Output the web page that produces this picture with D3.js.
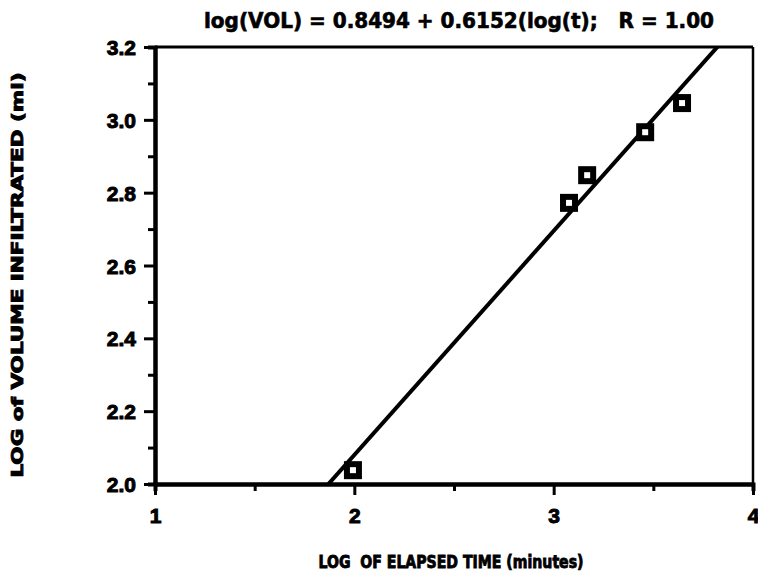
<!DOCTYPE html>
<html><head><meta charset="utf-8">
<script src="https://cdn.jsdelivr.net/npm/d3@7"></script>
<style>
body{margin:0;background:#fff;}
svg text{font-family:"Liberation Sans Narrow","DejaVu Sans Condensed","Arial Narrow",sans-serif;font-weight:bold;fill:#000;white-space:pre;}
</style></head>
<body>
<svg id="c" width="758" height="583"></svg>
<script>
// Data
const logTime = [1.993, 3.077, 3.168, 3.459, 3.644];
const logVolume = [2.038, 2.772, 2.848, 2.966, 3.046];
const fitIntercept = 0.8494;
const fitSlope = 0.6152;
const xTickValues = [1, 2, 3, 4];
const xMinorTicks = [1.5, 2.5, 3.5];
const yTickValues = [2.0, 2.2, 2.4, 2.6, 2.8, 3.0, 3.2];
const yMinorTicks = [2.1, 2.3, 2.5, 2.7, 2.9, 3.1];
const titleText = "log(VOL) = 0.8494 + 0.6152(log(t);   R = 1.00";
const xTitle = "LOG  OF ELAPSED TIME (minutes)";
const yTitle = "LOG of VOLUME INFILTRATED (ml)";

const svg = d3.select("#c");
const L = 155, R = 753, T = 47, B = 484;
const x = d3.scaleLinear().domain([1, 4]).range([L, R]);
const y = d3.scaleLinear().domain([2.0, 3.2]).range([B, T]);

// frame (top & right)
svg.append("line").attr("x1", L).attr("x2", R).attr("y1", T).attr("y2", T)
  .attr("stroke", "#000").attr("stroke-width", 3);
svg.append("line").attr("x1", R).attr("x2", R).attr("y1", T).attr("y2", B)
  .attr("stroke", "#000").attr("stroke-width", 2.5);

// regression line clipped to plot
svg.append("clipPath").attr("id", "clip").append("rect")
  .attr("x", L).attr("y", T).attr("width", R - L).attr("height", B - T);
const xs = [1, 4];
svg.append("line").attr("clip-path", "url(#clip)")
  .attr("x1", x(xs[0])).attr("y1", y(fitIntercept + fitSlope * xs[0]))
  .attr("x2", x(xs[1])).attr("y2", y(fitIntercept + fitSlope * xs[1]))
  .attr("stroke", "#000").attr("stroke-width", 4);

// axes
function styleAxis(g) {
  g.select(".domain").attr("stroke", "#000").attr("stroke-width", 4);
  g.selectAll(".tick line").attr("stroke", "#000").attr("stroke-width", 3);
}
const yAxis = svg.append("g").attr("transform", `translate(${L},0)`)
  .call(d3.axisLeft(y).tickValues(yTickValues).tickFormat(d3.format(".1f")).tickSize(11).tickSizeOuter(0));
styleAxis(yAxis);
yAxis.selectAll(".tick text").attr("font-size", 21).attr("x", -19).attr("dy", "0.36em")
  .attr("stroke", "#000").attr("stroke-width", 1)
  .style("font-family", "'Liberation Sans','DejaVu Sans',sans-serif").style("font-weight", "bold");
const yMinor = svg.append("g").attr("transform", `translate(${L},0)`)
  .call(d3.axisLeft(y).tickValues(yMinorTicks).tickFormat("").tickSize(7));
styleAxis(yMinor);

const xAxis = svg.append("g").attr("transform", `translate(0,${B})`)
  .call(d3.axisBottom(x).tickValues(xTickValues).tickFormat(d3.format("d")).tickSize(11).tickSizeOuter(0));
styleAxis(xAxis);
xAxis.selectAll(".tick text").attr("font-size", 21).attr("y", 24)
  .attr("stroke", "#000").attr("stroke-width", 1)
  .style("font-family", "'Liberation Sans','DejaVu Sans',sans-serif").style("font-weight", "bold");
const xMinor = svg.append("g").attr("transform", `translate(0,${B})`)
  .call(d3.axisBottom(x).tickValues(xMinorTicks).tickFormat("").tickSize(7));
styleAxis(xMinor);

// points
const s = 12;
svg.append("g").selectAll("rect").data(logTime).join("rect")
  .attr("x", (d) => x(d) - s / 2)
  .attr("y", (d, i) => y(logVolume[i]) - s / 2)
  .attr("width", s).attr("height", s)
  .attr("fill", "#fff").attr("stroke", "#000").attr("stroke-width", 6);

// title
svg.append("text").attr("x", 459).attr("y", 28).attr("text-anchor", "middle")
  .attr("font-size", 21).attr("textLength", 510).attr("lengthAdjust", "spacingAndGlyphs")
  .attr("stroke", "#000").attr("stroke-width", 0.6)
  .text(titleText);

// axis titles
svg.append("text").attr("x", 451).attr("y", 568).attr("text-anchor", "middle")
  .attr("font-size", 17).attr("textLength", 265).attr("lengthAdjust", "spacingAndGlyphs")
  .attr("stroke", "#000").attr("stroke-width", 0.8)
  .text(xTitle);
svg.append("text").attr("transform", "translate(23,275) rotate(-90)").attr("text-anchor", "middle")
  .attr("font-size", 15).attr("textLength", 405).attr("lengthAdjust", "spacingAndGlyphs")
  .attr("stroke", "#000").attr("stroke-width", 0.8)
  .text(yTitle);
</script>
</body></html>
